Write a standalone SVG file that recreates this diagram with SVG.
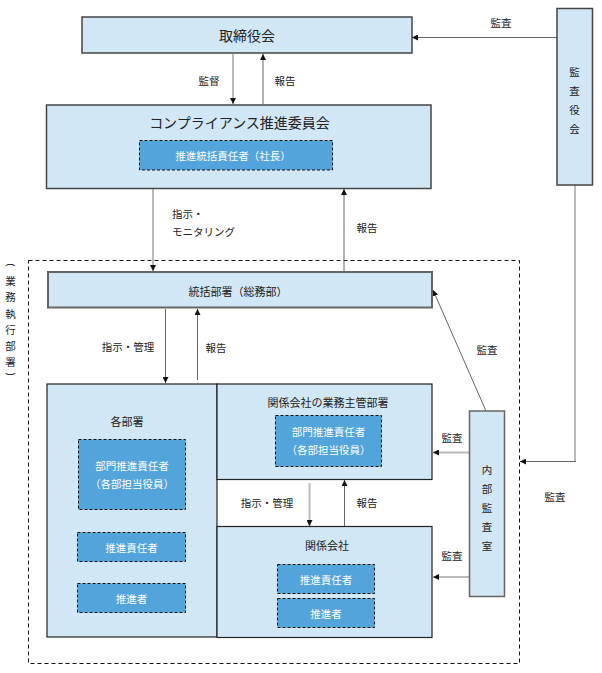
<svg xmlns="http://www.w3.org/2000/svg" width="602" height="673" viewBox="0 0 602 673">
<defs>
<style>
text{font-family:"Noto Sans CJK JP","Noto Sans",sans-serif;dominant-baseline:central;text-anchor:middle;fill:#222;}
.t14{font-size:14px;}
.t11{font-size:11px;}
.lb{font-size:10.5px;}
.par{font-family:"Noto Sans",sans-serif;font-size:10px;}
.w{fill:#fff;font-size:10.5px;}
.box{fill:#D1E7F5;stroke:#444;stroke-width:1.5;}
.inner{fill:#52A4DB;stroke:#111;stroke-width:1;stroke-dasharray:3,2;}
.lt{fill:none;stroke:#BBBBBB;stroke-width:2;}
.dk{fill:none;stroke:#666;stroke-width:1;}
.outer{fill:none;stroke:#111;stroke-width:1;stroke-dasharray:4,3;}
</style>
<marker id="ah" viewBox="0 0 6 6" refX="6" refY="3" markerWidth="6" markerHeight="6" markerUnits="userSpaceOnUse" orient="auto">
<path d="M0,0 L6,3 L0,6 z" fill="#111"/>
</marker>
</defs>
<rect width="602" height="673" fill="#fff"/>

<rect class="outer" x="28.5" y="260.5" width="491" height="403"/>

<g id="exec-label">
<text class="par" x="10.5" y="265" transform="rotate(90 10.5 265)">(</text>
<text class="lb" x="10.5" y="280">業</text>
<text class="lb" x="10.5" y="296.5">務</text>
<text class="lb" x="10.5" y="313">執</text>
<text class="lb" x="10.5" y="329">行</text>
<text class="lb" x="10.5" y="345">部</text>
<text class="lb" x="10.5" y="361">署</text>
<text class="par" x="10.5" y="374" transform="rotate(90 10.5 374)">)</text>
</g>

<g id="connectors">
<path class="dk" d="M557,37.5 L412,37.5" marker-end="url(#ah)"/>
<path class="lt" d="M233,54 L233,104" marker-end="url(#ah)"/>
<path class="dk" d="M263,104 L263,54" marker-end="url(#ah)"/>
<path class="lt" d="M153,189 L153,271" marker-end="url(#ah)"/>
<path class="dk" d="M344,271 L344,189" marker-end="url(#ah)"/>
<path class="lt" d="M575,185 L575,461.5"/>
<path class="dk" d="M576,461.5 L520,461.5" marker-end="url(#ah)"/>
<path class="dk" d="M165.5,309 L165.5,383" marker-end="url(#ah)"/>
<path class="dk" d="M197.5,380 L197.5,309" marker-end="url(#ah)"/>
<path class="dk" d="M486,411 L433,290" marker-end="url(#ah)"/>
<path class="lt" d="M469,452.5 L433,452.5" marker-end="url(#ah)"/>
<path class="lt" d="M469,577 L433,577" marker-end="url(#ah)"/>
<path class="lt" d="M309.5,483 L309.5,526" marker-end="url(#ah)"/>
<path class="dk" d="M344.5,526 L344.5,480" marker-end="url(#ah)"/>
<text class="lb" x="501" y="22.5">監査</text>
<text class="lb" x="209" y="80">監督</text>
<text class="lb" x="285" y="80">報告</text>
<text class="lb" x="172" y="213" style="text-anchor:start">指示・</text>
<text class="lb" x="172" y="231" style="text-anchor:start">モニタリング</text>
<text class="lb" x="367" y="227.5">報告</text>
<text class="lb" x="128" y="346.5">指示・管理</text>
<text class="lb" x="216" y="347">報告</text>
<text class="lb" x="487" y="349">監査</text>
<text class="lb" x="452" y="437.5">監査</text>
<text class="lb" x="555" y="496.5">監査</text>
<text class="lb" x="267" y="502.5">指示・管理</text>
<text class="lb" x="367" y="502.5">報告</text>
<text class="lb" x="452" y="555">監査</text>
</g>

<g id="board">
<rect class="box" x="82" y="17" width="330" height="36"/>
<text class="t14" x="247" y="35">取締役会</text>
</g>

<g id="auditors">
<rect class="box" x="557" y="8.5" width="35.5" height="176.5"/>
<text class="lb" x="574.5" y="71">監</text>
<text class="lb" x="574.5" y="90">査</text>
<text class="lb" x="574.5" y="109">役</text>
<text class="lb" x="574.5" y="128">会</text>
</g>

<g id="committee">
<rect class="box" x="46.5" y="105" width="384.5" height="83.5"/>
<text class="t14" x="239.5" y="121.5">コンプライアンス推進委員会</text>
</g>
<g id="chief">
<rect class="inner" x="139.5" y="140.5" width="193" height="29.5"/>
<text class="w" x="233" y="155">推進統括責任者（社長）</text>
</g>

<g id="general-affairs">
<rect class="box" x="48" y="272" width="384" height="35.5" style="stroke:#666;stroke-width:2"/>
<text class="t11" x="238" y="290.5">統括部署（総務部）</text>
</g>

<g id="departments">
<rect class="box" x="47" y="384" width="170" height="253" style="stroke:#222;stroke-width:1.2"/>
<text class="t11" x="127" y="420.5">各部署</text>
</g>
<g id="dept-head">
<rect class="inner" x="78.5" y="439.5" width="107" height="70"/>
<text class="w" x="132" y="465">部門推進責任者</text>
<text class="w" x="132" y="483.5">（各部担当役員）</text>
</g>
<g id="dept-promoter-lead">
<rect class="inner" x="77.5" y="532.5" width="108" height="29"/>
<text class="w" x="131.5" y="547">推進責任者</text>
</g>
<g id="dept-promoter">
<rect class="inner" x="77.5" y="583.5" width="108" height="29"/>
<text class="w" x="131.5" y="598">推進者</text>
</g>

<g id="affiliate-dept">
<rect class="box" x="217" y="384" width="215" height="95.5" style="stroke:#222;stroke-width:1.2"/>
<text class="t11" x="328" y="401.5">関係会社の業務主管部署</text>
</g>
<g id="affiliate-dept-head">
<rect class="inner" x="275.5" y="415.5" width="106" height="51"/>
<text class="w" x="328.5" y="431.5">部門推進責任者</text>
<text class="w" x="328.5" y="449.5">（各部担当役員）</text>
</g>

<g id="affiliates">
<rect class="box" x="217" y="526.5" width="215" height="111" style="stroke:#222;stroke-width:1.2"/>
<text class="t11" x="327" y="545">関係会社</text>
</g>
<g id="aff-promoter-lead">
<rect class="inner" x="277.5" y="564.5" width="97" height="29"/>
<text class="w" x="326" y="579">推進責任者</text>
</g>
<g id="aff-promoter">
<rect class="inner" x="277.5" y="598.5" width="97" height="29"/>
<text class="w" x="326" y="613">推進者</text>
</g>

<g id="internal-audit">
<rect class="box" x="469.5" y="411" width="35" height="185.5" style="stroke:#666;stroke-width:1.5"/>
<text class="lb" x="487" y="469">内</text>
<text class="lb" x="487" y="488">部</text>
<text class="lb" x="487" y="507">監</text>
<text class="lb" x="487" y="526">査</text>
<text class="lb" x="487" y="545">室</text>
</g>
</svg>
